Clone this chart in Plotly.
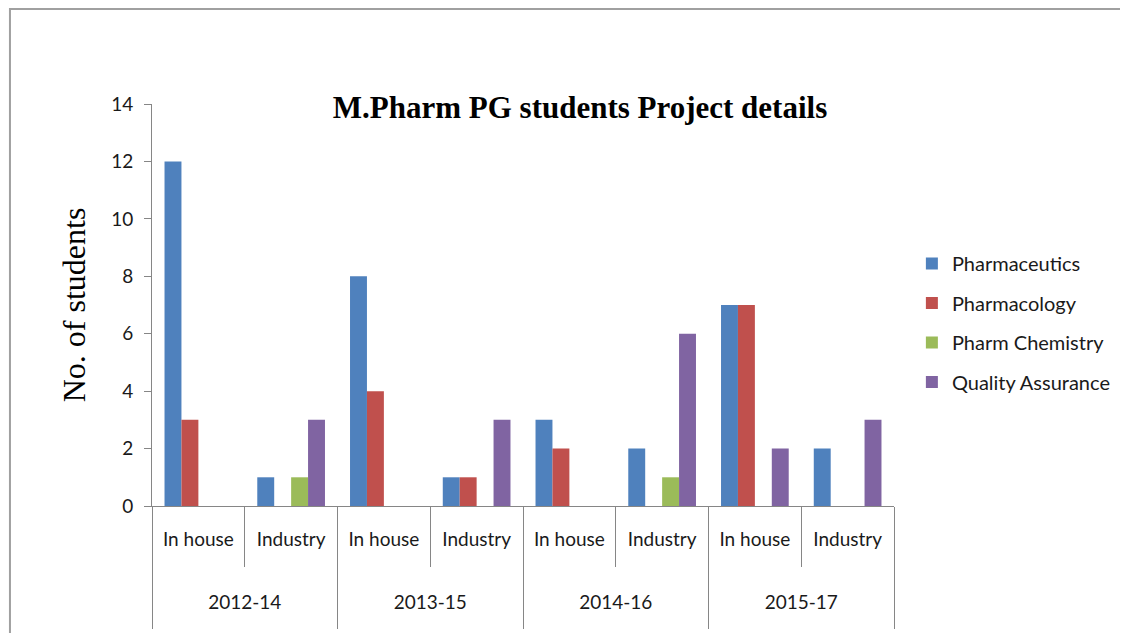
import plotly.graph_objects as go

# categories
batches = ["2012-14", "2013-15", "2014-16", "2015-17"]
places = ["In house", "Industry"]

# one value per (batch, place): 2012-14 In house, 2012-14 Industry, 2013-15 In house, ...
pharmaceutics = [12, 1, 8, 1, 3, 2, 7, 2]
pharmacology = [3, 0, 4, 1, 2, 0, 7, 0]
pharm_chemistry = [0, 1, 0, 0, 0, 1, 0, 0]
quality_assurance = [0, 3, 0, 3, 0, 6, 2, 3]

series = [
    ("Pharmaceutics", pharmaceutics, "#4F81BD"),
    ("Pharmacology", pharmacology, "#C0504D"),
    ("Pharm Chemistry", pharm_chemistry, "#9BBB59"),
    ("Quality Assurance", quality_assurance, "#8064A2"),
]

n_places = len(places)
n_cats = len(batches) * n_places
idx = list(range(n_cats))
inner_text = [places[i % n_places] for i in idx]
outer_pos = [b * n_places + (n_places - 1) / 2 for b in range(len(batches))]
inner_bounds = [i - 0.5 for i in range(n_cats + 1)]
outer_bounds = [b * n_places - 0.5 for b in range(len(batches) + 1)]

# page has an 8px body margin, so the figure is drawn 8px in from the corner
W, H = 1120, 625
left, right, top, bottom = 144, 891, 96, 498
pw = right - left
ph = bottom - top

TICK_FONT = dict(family="Lato, Open Sans, sans-serif", size=19, color="#1a1a1a")
SERIF = "Liberation Serif, Times New Roman, serif"
AXIS_GREY = "#868686"

fig = go.Figure()
for i, (name, vals, color) in enumerate(series):
    fig.add_trace(
        go.Bar(
            x=idx,
            y=vals,
            name=name,
            marker=dict(color=color, line=dict(width=0)),
            legendgroup=str(i),
        )
    )

# empty traces so the two label axes get drawn
for ax in ("x2", "x3"):
    fig.add_trace(
        go.Scatter(x=idx, y=[None] * n_cats, xaxis=ax, yaxis="y",
                   mode="markers", showlegend=False, hoverinfo="skip")
    )

# outer chart frame, runs off the right and bottom edges like the source
fig.add_shape(
    type="rect",
    xref="paper", yref="paper",
    x0=(1 - left) / pw, x1=1.6,
    y0=-0.6, y1=(bottom - 1) / ph,
    line=dict(color="#A0A0A0", width=2),
    fillcolor="rgba(0,0,0,0)",
    layer="below",
)

label_axis = dict(
    overlaying="x",
    anchor="y",
    side="bottom",
    range=[-0.5, n_cats - 0.5],
    showline=False,
    showgrid=False,
    zeroline=False,
    ticks="",
    tickmode="array",
    tickfont=TICK_FONT,
    automargin=False,
)

fig.update_layout(
    width=W,
    height=H,
    margin=dict(l=left, r=W - right, t=top, b=H - bottom),
    paper_bgcolor="white",
    plot_bgcolor="white",
    barmode="group",
    bargap=0.27,
    bargroupgap=0,
    font=TICK_FONT,
    title=dict(
        text="<b>M.Pharm PG students Project details</b>",
        font=dict(family=SERIF, size=31, color="black"),
        x=572 / W,
        xanchor="center",
        y=1 - 99 / H,
        yanchor="middle",
    ),
    legend=dict(
        x=(909 - left) / pw,
        xanchor="left",
        y=(bottom - 236) / ph,
        yanchor="top",
        font=dict(family="Lato, Open Sans, sans-serif", size=20, color="#1a1a1a"),
        tracegroupgap=10.5,
        bgcolor="rgba(0,0,0,0)",
    ),
    # axis carrying the bars and the short category dividers
    xaxis=dict(
        range=[-0.5, n_cats - 0.5],
        showline=True,
        linecolor=AXIS_GREY,
        linewidth=1,
        showgrid=False,
        zeroline=False,
        tickmode="array",
        tickvals=inner_bounds,
        ticktext=[""] * len(inner_bounds),
        ticks="outside",
        ticklen=60,
        tickcolor=AXIS_GREY,
        tickwidth=1,
        automargin=False,
    ),
    # inner labels
    xaxis2=dict(label_axis, tickvals=idx, ticktext=inner_text, ticklabelstandoff=20),
    # outer labels with the long group dividers
    xaxis3=dict(
        label_axis,
        tickvals=outer_pos,
        ticktext=batches,
        ticklabelstandoff=83,
        minor=dict(tickvals=outer_bounds, ticks="outside", ticklen=122,
                   tickcolor=AXIS_GREY, tickwidth=1, showgrid=False),
    ),
    yaxis=dict(
        range=[0, 14],
        dtick=2,
        showline=True,
        linecolor=AXIS_GREY,
        linewidth=1,
        ticks="outside",
        ticklen=7,
        tickcolor=AXIS_GREY,
        ticklabelstandoff=7,
        showgrid=False,
        zeroline=False,
        automargin=False,
        tickfont=TICK_FONT,
        title=dict(
            text="No. of students",
            font=dict(family=SERIF, size=32, color="black"),
            standoff=15,
        ),
    ),
)

fig.write_html("out.html")
